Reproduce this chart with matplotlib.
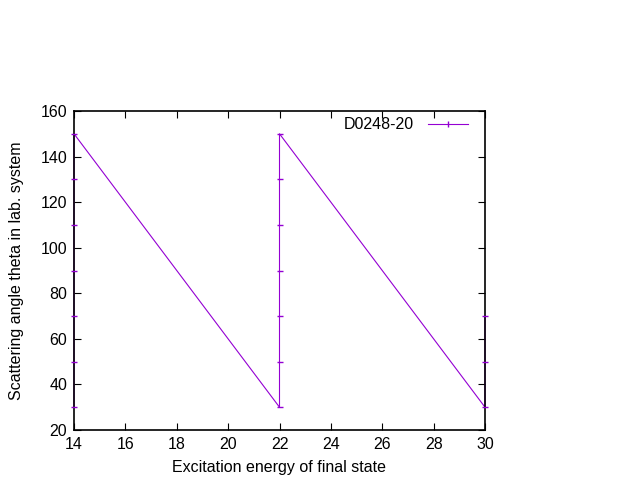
import matplotlib
matplotlib.use('Agg')
import matplotlib.pyplot as plt
from matplotlib.lines import Line2D

plt.rcParams['font.family'] = ['Liberation Sans', 'DejaVu Sans']
plt.rcParams['font.size'] = 11.5

# data points, in file order
energy = [14, 14, 14, 14, 14, 14, 14,
          22, 22, 22, 22, 22, 22, 22,
          30, 30, 30]
theta = [30, 50, 70, 90, 110, 130, 150,
         30, 50, 70, 90, 110, 130, 150,
         30, 50, 70]
label = 'D0248-20'
color = '#9400d3'

fig = plt.figure(figsize=(6.4, 4.8), dpi=100)
ax = fig.add_axes([74/640, 1 - 430/480, (485 - 74)/640, (430 - 111)/480])

# connecting line below the frame, error-bar caps above it
ax.plot(energy, theta, color=color, lw=0.8, clip_on=False, zorder=2)
ax.plot(energy, theta, color=color, ls='none', marker='_', ms=5, mew=1.0,
        clip_on=False, zorder=4)

ax.set_xlim(14, 30)
ax.set_ylim(20, 160)
ax.set_xticks(range(14, 31, 2))
ax.set_yticks(range(20, 161, 20))
ax.tick_params(direction='in', length=5, width=0.8, top=True, right=True,
               labelsize=11.5, pad=5)
for s in ax.spines.values():
    s.set_linewidth(1.2)
    s.set_zorder(3)

ax.set_xlabel('Excitation energy of final state', labelpad=6)
ax.set_ylabel('Scattering angle theta in lab. system', labelpad=12)

handle = Line2D([], [], color=color, lw=0.8, marker='|', ms=5, mew=1.0)
ax.legend([handle], [label], loc='upper right', frameon=False,
          markerfirst=False, handlelength=2.5, handletextpad=0.9,
          borderaxespad=0.0, bbox_to_anchor=(0.975, 1.0))

fig.savefig('out.png', dpi=100)
